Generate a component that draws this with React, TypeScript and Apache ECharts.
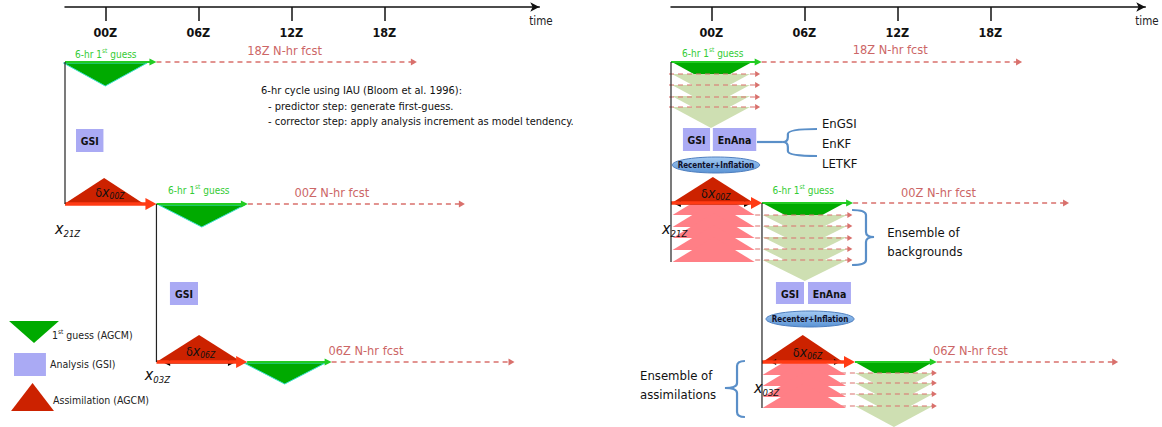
import React, { useEffect, useRef } from 'react';
import * as echarts from 'echarts';

const FF = "'Liberation Sans Narrow', 'DejaVu Sans Condensed', 'Open Sans', sans-serif";

// time axis (hours from 00Z)
const tickHours = [0, 6, 12, 18];
const tickLabels = ['00Z', '06Z', '12Z', '18Z'];
const axisMin = -2.6;
const axisMax = 28;

// ---------- left panel: single GSI analysis cycle ----------
const leftGuessArrows = [[-2.6, 3.3, 62], [3.3, 9.2, 204], [9.15, 14.6, 362]]; // [startH, endH, row]
const leftAssimArrows = [[-2.6, 3.3, 204], [3.3, 9.15, 362]];
const leftFcstArrows = [[3.3, 20.1, 62], [9.2, 23.2, 204], [14.6, 26.4, 362]];
const leftGuessTris = [[-2.7, 2.7, 63, 86], [3.45, 9.0, 205, 227], [8.95, 14.2, 363, 384]]; // [l, r, top, apex]
const leftAssimTris = [[-2.65, 2.5, 204, 178], [3.3, 8.8, 362, 335]]; // [l, r, base, apex]
const leftBoxes = [[-1.89, -0.12, 129, 152, 'GSI'], [4.17, 5.98, 282, 305, 'GSI']];
const leftSpines = [[-2.6, 62, 204], [3.3, 204, 362]];
const leftIncrements = [[3.8, 8.3, 363]];
const leftGuessLabels = [[-1.95, 54], [4.05, 190]];
const leftFcstLabels = [['18Z N-hr fcst', 9.15, 50], ['00Z N-hr fcst', 12.2, 192], ['06Z N-hr fcst', 14.4, 350]];
const leftDeltaLabels = [['00Z', -0.65, 192], ['06Z', 5.2, 351]];
const leftStateLabels = [['21Z', -3.25, 228], ['03Z', 2.55, 374]];
const iauLines = [
  '6-hr cycle using IAU (Bloom et al. 1996):',
  '- predictor step: generate first-guess.',
  '- corrector step: apply analysis increment as model tendency.',
];
const iauPos = [[10.05, 90], [10.5, 106], [10.5, 121]];

// legend (left panel)
const legendGuess = [-6.21, -2.99, 321, 343];
const legendBox = [-5.89, -3.83, 353, 376];
const legendAssim = [-6.08, -3.31, 411, 383];
const legendTextPos = [[-3.44, 335], [-3.57, 364], [-3.37, 400]];

// ---------- right panel: hybrid ensemble cycle ----------
const rightGuessArrows = [[-2.6, 3.25, 62], [3.27, 9.15, 203], [9.27, 14.55, 362]];
const rightAssimArrows = [[-2.6, 3.27, 203], [3.27, 9.27, 362]];
const rightFcstArrows = [[3.25, 20.05, 62], [9.15, 23.08, 203], [14.55, 26.25, 362]];
const rightGuessTris = [[-2.54, 2.63, 62, 84], [3.3, 8.6, 203, 225], [9.27, 14.3, 362, 384]];
const memberTops1 = [74, 85, 96, 107];
const memberTops2 = [215, 226, 237, 249, 260];
const memberTops3 = [373, 383, 394, 406];
const memberSpans = [[-2.54, 2.5], [3.3, 8.76], [9.27, 14.3]];
const memberArrowY1 = [74, 85, 97, 107];
const memberArrowY2 = [215, 226, 238, 249, 260];
const memberArrowY3 = [373, 383, 394, 406];
const memberArrowSpans = [[-2.73, 3.15], [2.83, 9.1], [7.2, 14.55]];
const pinkBases1 = [215, 227, 238, 250, 262];
const pinkBases2 = [375, 386, 397, 408];
const pinkSpans = [[-2.5, 2.8], [3.3, 8.7]];
const rightAssimTris = [[-2.55, 2.75, 203, 177], [3.3, 8.5, 362, 335]];
const rightIncrements = [[-2.35, 2.5, 204], [3.8, 8.3, 362]];
const rightBoxes = [
  [-1.83, -0.08, 128, 151, 'GSI'], [0.1, 2.9, 128, 151, 'EnAna'],
  [4.17, 5.98, 282, 304, 'GSI'], [6.24, 9.01, 282, 304, 'EnAna'],
];
const rightEllipses = [[0.3, 165, 2.82, 8], [6.37, 319, 2.84, 8]];
const rightSpines = [[-2.6, 62, 262], [3.27, 203, 408]];
const rightGuessLabels = [[-1.89, 53], [3.95, 190]];
const rightFcstLabels = [['18Z N-hr fcst', 9.13, 49], ['00Z N-hr fcst', 12.24, 192], ['06Z N-hr fcst', 14.3, 350]];
const rightDeltaLabels = [['00Z', -0.66, 193], ['06Z', 5.26, 352]];
const rightStateLabels = [['21Z', -3.18, 228], ['03Z', 2.75, 387]];
const methods = ['EnGSI', 'EnKF', 'LETKF'];
const methodPos = [[7.14, 123], [7.14, 143], [7.14, 163]];
const ensembleBg = ['Ensemble of', 'backgrounds'];
const ensembleBgPos = [[11.35, 232], [11.35, 251]];
const ensembleAs = ['Ensemble of', 'assimilations'];
const ensembleAsPos = [[-4.6, 375], [-4.6, 394]];
// braces: [armH, spineH, tipH, top, tip, bottom]
const braces = [[6.82, 4.94, 4.62, 129, 142, 156], [9.08, 9.98, 10.5, 210, 237, 265], [2.17, 1.66, 0.88, 361, 388, 417]];
const braceConnector = [2.95, 4.62, 142];

// colours
const C = {
  axis: '#111111',
  guessText: '#33cc33',
  guessLine: '#22cc22',
  guessTri: '#00aa00',
  guessEdge: '#3fe0cf',
  member: '#cedfb2',
  assimTri: '#cc2200',
  assimLine: '#ff3b14',
  pink: '#ff7f86',
  fcst: '#d9706c',
  fcstText: '#cc6666',
  box: '#aaaaf4',
  brace: '#5a8fc8',
};

const measureCtx = typeof document !== 'undefined' ? document.createElement('canvas').getContext('2d') : null;
function fontStr(p: any) {
  return `${p.italic ? 'italic ' : ''}${p.bold ? 'bold ' : ''}${p.size}px ${FF}`;
}
function textW(t: string, p: any) {
  if (!measureCtx) return t.length * p.size * 0.5;
  measureCtx.font = fontStr(p);
  return measureCtx.measureText(t).width;
}

function build(api: any, panel: 'left' | 'right') {
  const P = (h: number, y: number) => api.coord([h, y]);
  const els: any[] = [];

  const text = (x: number, y: number, parts: any[], fill = '#111', align = 'left') => {
    let total = 0;
    parts.forEach((p) => (total += textW(p.t, p)));
    let cx = align === 'center' ? x - total / 2 : x;
    parts.forEach((p) => {
      els.push({
        type: 'text', x: cx, y: y + (p.dy || 0), silent: true,
        style: {
          text: p.t, fill: p.fill || fill, fontSize: p.size, fontFamily: FF,
          fontStyle: p.italic ? 'italic' : 'normal', fontWeight: p.bold ? 'bold' : 'normal',
          align: 'left', verticalAlign: 'middle',
        },
      });
      cx += textW(p.t, p);
    });
  };
  const textAt = (h: number, y: number, parts: any[], fill?: string, align?: string) => {
    const [x, yy] = P(h, y);
    text(x, yy, parts, fill, align);
  };

  const arrow = (h1: number, h2: number, y: number, color: string, width: number, headLen: number, headHalf: number, dash?: number[]) => {
    const [x1, yy] = P(h1, y);
    const [x2] = P(h2, y);
    els.push({
      type: 'line', silent: true,
      shape: { x1, y1: yy, x2: x2 - headLen * 0.7, y2: yy },
      style: { stroke: color, lineWidth: width, lineDash: dash || null },
    });
    els.push({
      type: 'polygon', silent: true,
      shape: { points: [[x2, yy], [x2 - headLen, yy - headHalf], [x2 - headLen, yy + headHalf]] },
      style: { fill: color },
    });
  };
  const dblArrow = (h1: number, h2: number, y: number) => {
    const [x1, yy] = P(h1, y);
    const [x2] = P(h2, y);
    els.push({ type: 'line', silent: true, shape: { x1: x1 + 2, y1: yy, x2: x2 - 2, y2: yy }, style: { stroke: '#000', lineWidth: 1.2 } });
    els.push({ type: 'polygon', silent: true, shape: { points: [[x1, yy], [x1 + 6, yy - 3], [x1 + 6, yy + 3]] }, style: { fill: '#000' } });
    els.push({ type: 'polygon', silent: true, shape: { points: [[x2, yy], [x2 - 6, yy - 3], [x2 - 6, yy + 3]] }, style: { fill: '#000' } });
  };
  const triDown = (l: number, r: number, top: number, apex: number, fill: string, stroke?: string) => {
    const a = P(l, top), b = P(r, top), c = P((l + r) / 2, apex);
    els.push({
      type: 'polygon', silent: true, shape: { points: [a, b, c] },
      style: { fill, stroke: stroke || null, lineWidth: stroke ? 1 : 0 },
    });
  };
  const triUp = (l: number, r: number, base: number, apex: number, fill: string) => {
    const a = P(l, base), b = P(r, base), c = P((l + r) / 2, apex);
    els.push({ type: 'polygon', silent: true, shape: { points: [a, b, c] }, style: { fill } });
  };
  const vline = (h: number, y1: number, y2: number) => {
    const [x, a] = P(h, y1);
    const [, b] = P(h, y2);
    els.push({ type: 'line', silent: true, shape: { x1: x, y1: a, x2: x, y2: b }, style: { stroke: '#222', lineWidth: 1.2 } });
  };
  const box = (l: number, r: number, t: number, b: number, label: string) => {
    const [x1, y1] = P(l, t);
    const [x2, y2] = P(r, b);
    els.push({ type: 'rect', silent: true, shape: { x: x1, y: y1, width: x2 - x1, height: y2 - y1 }, style: { fill: C.box } });
    text((x1 + x2) / 2, (y1 + y2) / 2 + 0.5, [{ t: label, size: 10.5, bold: true }], '#111', 'center');
  };
  const guessLabel = (h: number, y: number) =>
    textAt(h, y, [{ t: '6-hr 1', size: 10 }, { t: 'st', size: 6.5, dy: -3 }, { t: ' guess', size: 10 }], C.guessText);
  const deltaLabel = (sub: string, h: number, y: number) =>
    textAt(h, y, [{ t: 'δ', size: 12.5 }, { t: 'x', size: 14, italic: true }, { t: sub, size: 8.5, italic: true, dy: 4 }], '#111');
  const stateLabel = (sub: string, h: number, y: number) =>
    textAt(h, y, [{ t: 'x', size: 16, italic: true }, { t: sub, size: 9.5, italic: true, dy: 5 }], '#111');

  // time axis caption
  textAt(27.35, 21, [{ t: 'time', size: 11.5 }], '#222');

  if (panel === 'left') {
    leftFcstArrows.forEach(([a, b, y]) => arrow(a, b, y, C.fcst, 1.3, 6, 3.5, [5, 4]));
    leftGuessTris.forEach(([l, r, t, a]) => triDown(l, r, t, a, C.guessTri, C.guessEdge));
    leftAssimTris.forEach(([l, r, b, a]) => triUp(l, r, b, a, C.assimTri));
    leftIncrements.forEach(([a, b, y]) => dblArrow(a, b, y));
    leftAssimArrows.forEach(([a, b, y]) => arrow(a, b, y, C.assimLine, 3.5, 11, 6));
    leftGuessArrows.forEach(([a, b, y]) => arrow(a, b, y, C.guessLine, 2, 7, 3.5));
    leftSpines.forEach(([h, a, b]) => vline(h, a, b));
    leftBoxes.forEach(([l, r, t, b, s]) => box(l as number, r as number, t as number, b as number, s as string));
    leftGuessLabels.forEach(([h, y]) => guessLabel(h, y));
    leftFcstLabels.forEach(([s, h, y]) => textAt(h as number, y as number, [{ t: s, size: 12.7 }], C.fcstText));
    leftDeltaLabels.forEach(([s, h, y]) => deltaLabel(s as string, h as number, y as number));
    leftStateLabels.forEach(([s, h, y]) => stateLabel(s as string, h as number, y as number));
    iauLines.forEach((s, i) => textAt(iauPos[i][0], iauPos[i][1], [{ t: s, size: 11 }], '#111'));
    // legend
    triDown(legendGuess[0], legendGuess[1], legendGuess[2], legendGuess[3], C.guessTri);
    const [bx1, by1] = P(legendBox[0], legendBox[2]);
    const [bx2, by2] = P(legendBox[1], legendBox[3]);
    els.push({ type: 'rect', silent: true, shape: { x: bx1, y: by1, width: bx2 - bx1, height: by2 - by1 }, style: { fill: C.box } });
    triUp(legendAssim[0], legendAssim[1], legendAssim[2], legendAssim[3], C.assimTri);
    textAt(legendTextPos[0][0], legendTextPos[0][1], [{ t: '1', size: 10.5 }, { t: 'st', size: 6.5, dy: -3 }, { t: ' guess (AGCM)', size: 10.5 }], '#222');
    textAt(legendTextPos[1][0], legendTextPos[1][1], [{ t: 'Analysis (GSI)', size: 10.5 }], '#222');
    textAt(legendTextPos[2][0], legendTextPos[2][1], [{ t: 'Assimilation (AGCM)', size: 10.5 }], '#222');
  } else {
    rightFcstArrows.forEach(([a, b, y]) => arrow(a, b, y, C.fcst, 1.3, 6, 3.5, [5, 4]));
    // first-guess mean + ensemble members
    const memberTops = [memberTops1, memberTops2, memberTops3];
    const memberArrowYs = [memberArrowY1, memberArrowY2, memberArrowY3];
    rightGuessTris.forEach(([l, r, t, a], i) => {
      triDown(l, r, t, a, C.guessTri);
      const [ml, mr] = memberSpans[i];
      memberTops[i].forEach((top) => triDown(ml, mr, top, top + 21, C.member));
      const [al, ar] = memberArrowSpans[i];
      memberArrowYs[i].forEach((y) => arrow(al, ar, y, C.fcst, 1.2, 5, 3, [5, 4]));
    });
    // ensemble of assimilations
    const pinkBases = [pinkBases1, pinkBases2];
    pinkBases.forEach((bases, i) => {
      const [pl, pr] = pinkSpans[i];
      bases.forEach((b) => triUp(pl, pr, b, b - 25, C.pink));
    });
    rightAssimTris.forEach(([l, r, b, a]) => triUp(l, r, b, a, C.assimTri));
    rightIncrements.forEach(([a, b, y]) => dblArrow(a, b, y));
    rightAssimArrows.forEach(([a, b, y]) => arrow(a, b, y, C.assimLine, 3.5, 11, 6));
    rightGuessArrows.forEach(([a, b, y]) => arrow(a, b, y, C.guessLine, 2, 7, 3.5));
    rightSpines.forEach(([h, a, b]) => vline(h, a, b));
    rightBoxes.forEach(([l, r, t, b, s]) => box(l as number, r as number, t as number, b as number, s as string));
    rightEllipses.forEach(([h, y, rxH, ry]) => {
      const [cx, cy] = P(h, y);
      const [ex] = P(h + rxH, y);
      els.push({
        type: 'ellipse', silent: true,
        shape: { cx, cy, rx: ex - cx, ry },
        style: {
          fill: new echarts.graphic.LinearGradient(0, 0, 0, 1, [
            { offset: 0, color: '#a4cbf4' },
            { offset: 1, color: '#5a93d4' },
          ]),
          stroke: '#4f7fbf', lineWidth: 1,
        },
      });
      text(cx, cy + 0.5, [{ t: 'Recenter+Inflation', size: 8, bold: true }], '#10102a', 'center');
    });
    // braces
    const [c1, c2, cy] = braceConnector;
    const [cx1, cyy] = P(c1, cy);
    const [cx2] = P(c2, cy);
    els.push({ type: 'line', silent: true, shape: { x1: cx1, y1: cyy, x2: cx2, y2: cyy }, style: { stroke: C.brace, lineWidth: 2.2 } });
    braces.forEach(([armH, spineH, tipH, top, tip, bot]) => {
      const [ax, yT] = P(armH, top);
      const [sx, yP] = P(spineH, tip);
      const [tx, yB] = P(tipH, bot);
      const r = 5;
      const d = `M${ax},${yT} Q${sx},${yT} ${sx},${yT + r} L${sx},${yP - r} Q${sx},${yP} ${tx},${yP} Q${sx},${yP} ${sx},${yP + r} L${sx},${yB - r} Q${sx},${yB} ${ax},${yB}`;
      els.push({ type: 'path', silent: true, shape: { pathData: d }, style: { stroke: C.brace, fill: null, lineWidth: 2.2 } });
    });
    rightGuessLabels.forEach(([h, y]) => guessLabel(h, y));
    rightFcstLabels.forEach(([s, h, y]) => textAt(h as number, y as number, [{ t: s, size: 12.7 }], C.fcstText));
    rightDeltaLabels.forEach(([s, h, y]) => deltaLabel(s as string, h as number, y as number));
    rightStateLabels.forEach(([s, h, y]) => stateLabel(s as string, h as number, y as number));
    methods.forEach((s, i) => textAt(methodPos[i][0], methodPos[i][1], [{ t: s, size: 13 }], '#111'));
    ensembleBg.forEach((s, i) => textAt(ensembleBgPos[i][0], ensembleBgPos[i][1], [{ t: s, size: 13 }], '#111'));
    ensembleAs.forEach((s, i) => textAt(ensembleAsPos[i][0], ensembleAsPos[i][1], [{ t: s, size: 13 }], '#111'));
  }
  return els;
}

function makeXAxis(gridIndex: number) {
  return {
    type: 'value', gridIndex, position: 'top', min: axisMin, max: axisMax,
    axisLine: { show: true, onZero: false, lineStyle: { color: C.axis, width: 1.5 }, symbol: ['none', 'arrow'], symbolSize: [7, 9] },
    axisTick: { show: true, inside: true, length: 14, customValues: tickHours, lineStyle: { color: C.axis, width: 1.5 } },
    axisLabel: {
      show: true, inside: true, margin: 19, customValues: tickHours,
      formatter: (v: number) => tickLabels[tickHours.indexOf(v)] ?? '',
      fontWeight: 'bold', fontSize: 12.5, color: '#111', fontFamily: FF,
    },
    splitLine: { show: false },
  };
}
function makeYAxis(gridIndex: number) {
  return { type: 'value', gridIndex, min: 7, max: 427, inverse: true, show: false, splitLine: { show: false } };
}

export default function App() {
  const ref = useRef<HTMLDivElement>(null);
  useEffect(() => {
    if (!ref.current) return;
    const chart = echarts.init(ref.current, null, { renderer: 'svg' });
    chart.setOption({
      animation: false,
      backgroundColor: '#ffffff',
      grid: [
        { left: 65, top: 7, width: 474.3, height: 420 },
        { left: 671, top: 7, width: 474.3, height: 420 },
      ],
      xAxis: [makeXAxis(0), makeXAxis(1)],
      yAxis: [makeYAxis(0), makeYAxis(1)],
      series: [
        {
          type: 'custom', xAxisIndex: 0, yAxisIndex: 0, silent: true, clip: false,
          data: [[0, 100]],
          renderItem: (_p: any, api: any) => ({ type: 'group', children: build(api, 'left') }),
        },
        {
          type: 'custom', xAxisIndex: 1, yAxisIndex: 1, silent: true, clip: false,
          data: [[0, 100]],
          renderItem: (_p: any, api: any) => ({ type: 'group', children: build(api, 'right') }),
        },
      ],
    });
    return () => chart.dispose();
  }, []);
  return (
    <div
      ref={ref}
      style={{ position: 'fixed', left: 0, top: 0, width: 1162, height: 427, background: '#fff' }}
    />
  );
}
